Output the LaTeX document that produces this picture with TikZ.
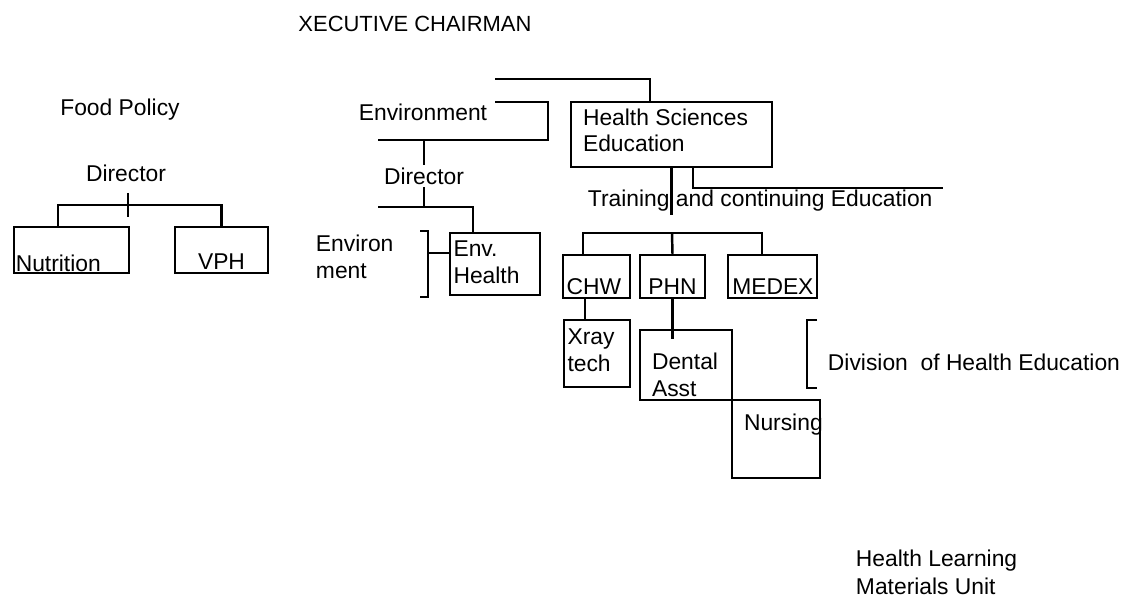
\documentclass[tikz,border=0pt]{standalone}
\usepackage{fontspec}
\setmainfont{Liberation Sans}
\usepackage{tikz}
\newcommand{\orgfont}{\fontsize{13}{15}\selectfont}

\begin{document}
\begin{tikzpicture}[x=0.02cm,y=-0.02cm,line width=1.4pt,
		unit/.style={draw,rectangle,inner sep=0pt},
		inbox/.style={inner sep=2pt,align=left,font=\orgfont},
		txt/.style={inner sep=1pt,align=left,font=\orgfont}]

	\useasboundingbox (0,0) rectangle (1134,597);

	\node[txt,font=\fontsize{12.5}{15}\selectfont] (chair) at (415,24) {XECUTIVE CHAIRMAN};

	\node[txt] (food) at (120,110) {Food Policy};
	\node[txt] (dir1) at (126,173) {Director};
	\node[unit,minimum width=2.3cm,minimum height=0.92cm,
		label={[inbox,name=nutriT,anchor=south west,inner sep=1pt]south west:Nutrition}] (nutri) at (71.5,250) {};
	\node[unit,minimum width=1.86cm,minimum height=0.92cm,
		label={[inbox,name=vphT,anchor=south]south:VPH}] (vph) at (221.5,250) {};
	\coordinate (fork) at (128,205);
	\draw ([xshift=-0.27cm]nutri.north) |- (fork) -| (vph.north);
	\draw ([yshift=0.24cm]fork) -- ([yshift=-0.24cm]fork);

	\node[txt] (env) at (423,112) {Environment};
	\coordinate (envA) at (495,102);
	\coordinate (envK) at (548,140);
	\coordinate (envB) at (378,140);
	\draw (envA) -| (envK) -- (envB);
	\node[txt] (dir2) at (424,176) {Director};
	\draw (dir2.north) -- (dir2.north |- envB);
	\node[unit,minimum width=1.8cm,minimum height=1.24cm,
		label={[inbox,name=envhT,anchor=north west,yshift=-0.09cm]north west:{Env.\\Health}}] (envh) at (495,264) {};
	\coordinate (envC) at (378,207);
	\draw (dir2.south) -- (dir2.south |- envC);
	\draw (envC) -| ([xshift=-0.44cm]envh.north);
	\node[txt,anchor=west] (envL) at (313,257) {Environ\\ment};
	\coordinate (brT) at (420,231);
	\coordinate (brB) at (420,297);
	\draw (brT) -- ++(8,0) |- (brB);
	\coordinate (brM) at (428,253);
	\draw (brM) -- (brM -| envh.west);

	\coordinate (topL) at (495,79);
	\node[unit,minimum width=4.02cm,minimum height=1.3cm,
		label={[inbox,name=hseT,anchor=north west,xshift=0.17cm,yshift=-0.07cm]north west:{Health Sciences\\Education}}] (hse) at (671.5,134.5) {};
	\draw (topL) -| ([xshift=-0.43cm]hse.north);

	\node[txt,anchor=west] (train) at (585,201) {Training and continuing Education};
	\coordinate (trainEnd) at (672,215);
	\draw (hse.south) -- (hse.south |- trainEnd);
	\coordinate (tceEnd) at (943,188);
	\draw ([xshift=0.43cm]hse.south) |- (tceEnd);

	\node[unit,minimum width=1.34cm,minimum height=0.86cm,
		label={[inbox,name=chwT,anchor=south west]south west:CHW}] (chw) at (596.5,276.5) {};
	\node[unit,minimum width=1.3cm,minimum height=0.86cm,
		label={[inbox,name=phnT,anchor=south]south:PHN}] (phn) at (672.5,276.5) {};
	\node[unit,minimum width=1.78cm,minimum height=0.86cm,
		label={[inbox,name=medexT,anchor=south east]south east:MEDEX}] (medex) at (772.5,276.5) {};
	\coordinate (grp) at (672,233);
	\draw ([xshift=-0.27cm]chw.north) |- (grp) -| ([xshift=-0.21cm]medex.north);
	\draw (grp) -- (phn.north);

	\node[unit,minimum width=1.32cm,minimum height=1.34cm,
		label={[inbox,name=xrayT,anchor=north west,yshift=-0.11cm]north west:{Xray\\tech}}] (xray) at (597,353.5) {};
	\draw ([xshift=-0.23cm]chw.south) -- ([xshift=-0.23cm]chw.south |- xray.north);
	\node[unit,minimum width=1.84cm,minimum height=1.4cm,
		label={[inbox,name=dentalT,anchor=south west,xshift=0.17cm]south west:{Dental\\Asst}}] (dental) at (686,365) {};
	\draw (phn.south) -- ([yshift=-0.2cm]phn.south |- dental.north);
	\node[unit,minimum width=1.76cm,minimum height=1.56cm,
		label={[inbox,name=nursT,anchor=north west,xshift=0.17cm,yshift=-0.21cm]north west:Nursing}] (nurs) at (776,439) {};

	\coordinate (divT) at (817,320);
	\coordinate (divB) at (817,388);
	\draw (divT) -- ++(-10,0) |- (divB);
	\node[txt,anchor=west] (div) at (825,362) {Division\ \ of Health Education};

	\node[txt,anchor=west] (hlm) at (853,572) {Health Learning\\[1pt]Materials Unit};

\end{tikzpicture}
\end{document}
